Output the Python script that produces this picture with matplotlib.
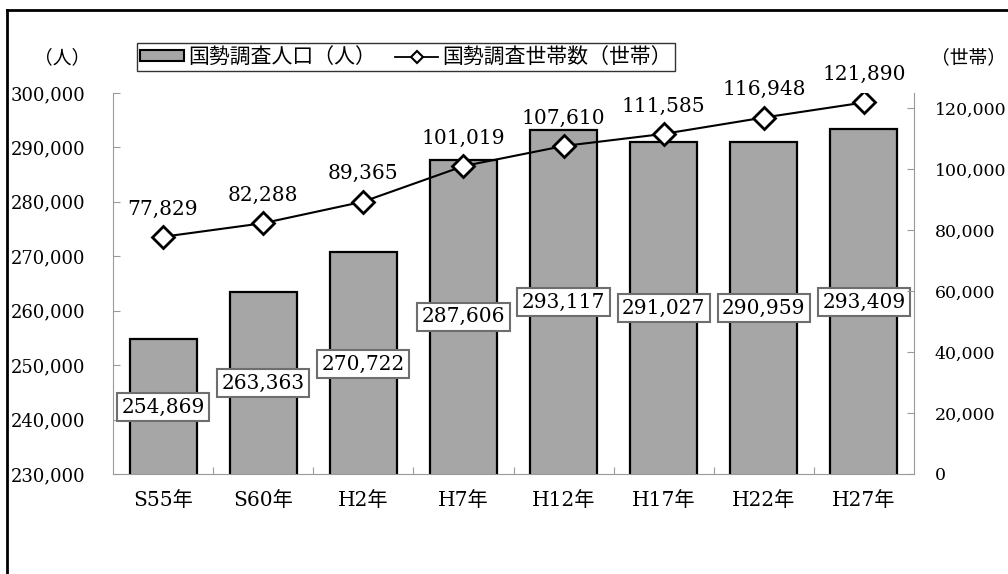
"""Census population (bars) and households (line) with dual y axes."""

import matplotlib

matplotlib.use("Agg")
import matplotlib.pyplot as plt
from matplotlib.lines import Line2D
from matplotlib.patches import Patch
from matplotlib.ticker import FuncFormatter, FixedLocator

YEARS = ["S55年", "S60年", "H2年", "H7年", "H12年", "H17年", "H22年", "H27年"]
POPULATION = [254869, 263363, 270722, 287606, 293117, 291027, 290959, 293409]
HOUSEHOLDS = [77829, 82288, 89365, 101019, 107610, 111585, 116948, 121890]

# where the boxed population labels sit (left-axis units)
POP_LABEL_Y = [242300, 246700, 250200, 258900, 261600, 260500, 260500, 261600]

SERIF = ["DejaVu Serif", "Noto Sans CJK JP"]
SANS = ["Noto Sans CJK JP", "DejaVu Sans"]
AXIS_GRAY = "#9a9a9a"
BAR_GRAY = "#a6a6a6"

W, H = 1008, 574


def px_x(x):
    return x / W


def px_y(y):
    return 1 - y / H


def main() -> None:
    plt.rcParams["font.family"] = SERIF
    fig = plt.figure(figsize=(W / 100, H / 100), dpi=100)
    ax = fig.add_axes([px_x(113), px_y(474), (914 - 113) / W, (474 - 93) / H])
    ax2 = ax.twinx()

    xs = list(range(len(YEARS)))
    ax.bar(xs, POPULATION, width=0.67, color=BAR_GRAY, edgecolor="black", linewidth=1.6, zorder=2)
    ax.set_xlim(-0.5, len(YEARS) - 0.5)
    ax.set_ylim(230000, 300000)
    ax.set_yticks(range(230000, 300001, 10000))
    ax.yaxis.set_major_formatter(FuncFormatter(lambda v, _: f"{int(v):,}"))

    for x, v, ly in zip(xs, POPULATION, POP_LABEL_Y):
        ax.text(
            x, ly, f"{v:,}", ha="center", va="center", fontsize=14.5, zorder=5,
            bbox=dict(boxstyle="square,pad=0.22", facecolor="white", edgecolor="#6e6e6e", linewidth=1.5),
        )

    ax2.plot(
        xs, HOUSEHOLDS, color="black", linewidth=1.5, marker="D", markersize=11,
        markerfacecolor="white", markeredgecolor="black", markeredgewidth=2.0, zorder=3,
    )
    for x, v in zip(xs, HOUSEHOLDS):
        ax2.annotate(f"{v:,}", (x, v), xytext=(0, 20), textcoords="offset points",
                     ha="center", va="center", fontsize=14.5)
    ax2.set_ylim(0, 125000)
    ax2.set_yticks(range(0, 120001, 20000))
    ax2.yaxis.set_major_formatter(FuncFormatter(lambda v, _: f"{int(v):,}"))

    # category boundary ticks, labels at centres
    ax.xaxis.set_major_locator(FixedLocator([x + 0.5 for x in xs[:-1]]))
    ax.xaxis.set_major_formatter(FuncFormatter(lambda v, _: ""))
    ax.xaxis.set_minor_locator(FixedLocator(xs))
    ax.set_xticklabels(YEARS, minor=True, fontsize=14.5)
    ax.tick_params(axis="x", which="major", direction="in", length=5, color=AXIS_GRAY)
    ax.tick_params(axis="x", which="minor", length=0, pad=12)
    ax.tick_params(axis="y", direction="in", length=5, color=AXIS_GRAY, labelsize=13, pad=20)
    ax2.tick_params(axis="y", direction="in", length=5, color=AXIS_GRAY, labelsize=12.5, pad=15)

    for a in (ax, ax2):
        a.spines["top"].set_visible(False)
    ax2.spines["left"].set_visible(False)
    ax2.spines["bottom"].set_visible(False)
    for name in ("left", "bottom"):
        ax.spines[name].set_color(AXIS_GRAY)
    ax.spines["right"].set_visible(False)
    ax2.spines["right"].set_color(AXIS_GRAY)

    fig.text(px_x(62), px_y(58), "（人）", ha="center", va="center", fontsize=13.5, family=SANS)
    fig.text(px_x(968), px_y(58), "（世帯）", ha="center", va="center", fontsize=13.5, family=SANS)

    handles = [
        Patch(facecolor=BAR_GRAY, edgecolor="black", linewidth=1.5),
        Line2D([], [], color="black", linewidth=1.3, marker="D", markersize=6,
               markerfacecolor="white", markeredgecolor="black", markeredgewidth=1.5),
    ]
    leg = fig.legend(
        handles, ["国勢調査人口（人）", "国勢調査世帯数（世帯）"],
        loc="upper left", bbox_to_anchor=(px_x(137), px_y(43)), ncol=2,
        prop={"family": SANS, "size": 15}, frameon=True, fancybox=False,
        edgecolor="black", handlelength=2.1, handleheight=0.45, handletextpad=0.2,
        columnspacing=0.9, borderpad=0.15, borderaxespad=0,
    )
    leg.get_frame().set_linewidth(1.0)

    # outer frame (left and top only visible in the crop)
    fig.add_artist(Line2D([px_x(7), px_x(7)], [0, px_y(10)], color="black", linewidth=2,
                          transform=fig.transFigure))
    fig.add_artist(Line2D([px_x(7), 1], [px_y(10), px_y(10)], color="black", linewidth=2,
                          transform=fig.transFigure))

    fig.savefig("out.png", dpi=100)


if __name__ == "__main__":
    main()
